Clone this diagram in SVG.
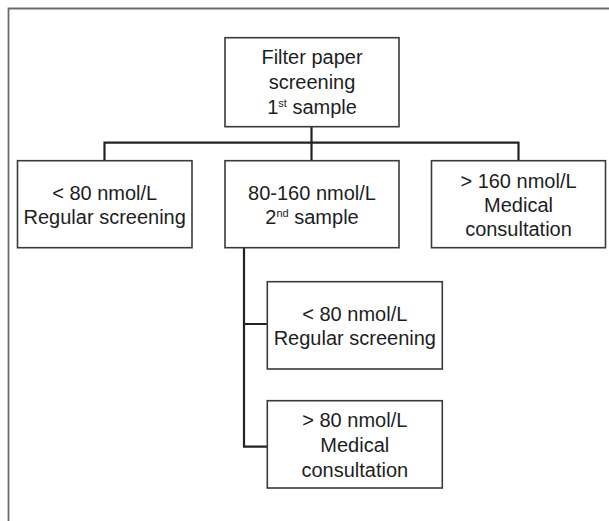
<svg xmlns="http://www.w3.org/2000/svg" width="609" height="521" viewBox="0 0 609 521">
<style>
.box{fill:#fff;stroke:#3a3a3a;stroke-width:1.6}
.t{font-family:"Liberation Sans",Arial,sans-serif;font-size:20px;fill:#1e1e1e;text-anchor:middle}
.sup{font-size:11px}
.c{fill:none;stroke:#222;stroke-width:2.2}
.frame{fill:none;stroke:#6a6a6a;stroke-width:1.8}
</style>
<rect width="609" height="521" fill="#fff"/>
<path class="frame" d="M8.5,521 V8.5 H609"/>
<g id="connectors">
<path class="c" d="M311.5,126.7 V142.7 M104.5,160.7 V142.7 H518.5 V160.7 M311.5,142.7 V160.7"/>
<path class="c" d="M244,247.7 V446.7 H267.3 M244,324 H267.3"/>
</g>
<g id="n_top">
<rect class="box" x="225" y="37.7" width="174" height="89"/>
<text class="t" x="312" y="64">Filter paper</text>
<text class="t" x="312" y="89">screening</text>
<text class="t" x="312" y="114">1<tspan class="sup" dy="-7">st</tspan><tspan dy="7"> sample</tspan></text>
</g>
<g id="n_low">
<rect class="box" x="17.5" y="160.7" width="174.5" height="87"/>
<text class="t" x="104.7" y="199.5">&lt; 80 nmol/L</text>
<text class="t" x="104.7" y="223.5">Regular screening</text>
</g>
<g id="n_mid">
<rect class="box" x="225" y="160.7" width="174" height="87"/>
<text class="t" x="312" y="199.5">80-160 nmol/L</text>
<text class="t" x="312" y="223.5">2<tspan class="sup" dy="-7">nd</tspan><tspan dy="7"> sample</tspan></text>
</g>
<g id="n_high">
<rect class="box" x="431.5" y="160.7" width="174" height="87"/>
<text class="t" x="518.5" y="187.5">&gt; 160 nmol/L</text>
<text class="t" x="518.5" y="211.5">Medical</text>
<text class="t" x="518.5" y="235.5">consultation</text>
</g>
<g id="n_low2">
<rect class="box" x="267.3" y="281.7" width="175" height="87.3"/>
<text class="t" x="354.8" y="320.5">&lt; 80 nmol/L</text>
<text class="t" x="354.8" y="344.5">Regular screening</text>
</g>
<g id="n_high2">
<rect class="box" x="267.3" y="400.7" width="175" height="87.3"/>
<text class="t" x="354.8" y="427">&gt; 80 nmol/L</text>
<text class="t" x="354.8" y="452">Medical</text>
<text class="t" x="354.8" y="477">consultation</text>
</g>
</svg>
